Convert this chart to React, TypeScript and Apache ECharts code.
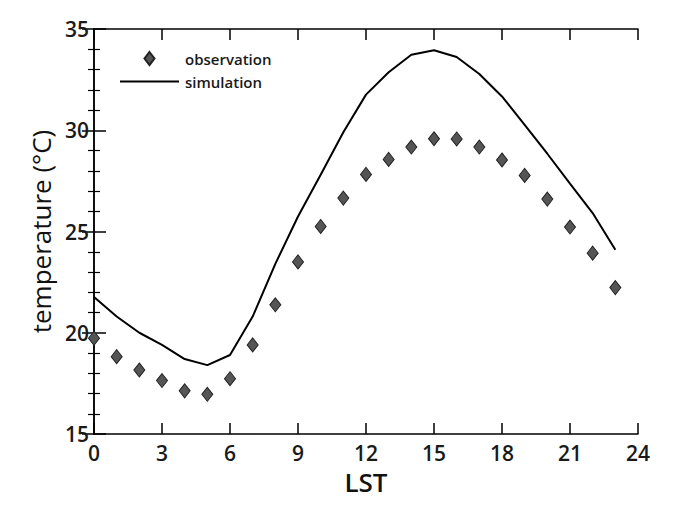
import React, { useEffect, useRef } from "react";
import * as echarts from "echarts";

const hours = [0, 1, 2, 3, 4, 5, 6, 7, 8, 9, 10, 11, 12, 13, 14, 15, 16, 17, 18, 19, 20, 21, 22, 23];
const observation = [19.73, 18.82, 18.16, 17.64, 17.13, 16.96, 17.73, 19.4, 21.38, 23.5, 25.25, 26.65, 27.82, 28.56, 29.17, 29.58, 29.57, 29.17, 28.53, 27.77, 26.6, 25.22, 23.93, 22.23];
const simulation = [21.76, 20.8, 20.0, 19.4, 18.7, 18.4, 18.9, 20.8, 23.4, 25.74, 27.8, 29.9, 31.76, 32.86, 33.73, 33.95, 33.62, 32.78, 31.67, 30.27, 28.84, 27.36, 25.91, 24.1];
const xTicks = { min: 0, max: 24, interval: 3 };
const yTicks = { min: 15, max: 35, interval: 5 };

const FONT = "'Open Sans', 'DejaVu Sans', sans-serif";

export default function App() {
  const ref = useRef<HTMLDivElement>(null);
  useEffect(() => {
    if (!ref.current) return;
    const chart = echarts.init(ref.current, undefined, { renderer: "svg" });
    const axisLine = { show: true, lineStyle: { color: "#000", width: 1.5 } };
    const xBase = {
      type: "value" as const,
      min: xTicks.min,
      max: xTicks.max,
      interval: xTicks.interval,
      splitLine: { show: false },
      axisLine,
      axisTick: { show: true, inside: true, length: 11, lineStyle: { color: "#000", width: 1.5 } },
    };
    const yBase = {
      type: "value" as const,
      min: yTicks.min,
      max: yTicks.max,
      interval: yTicks.interval,
      splitLine: { show: false },
      axisLine,
      axisTick: { show: true, inside: true, length: 12, lineStyle: { color: "#000", width: 1.5 } },
      minorTick: { show: true, splitNumber: 5, length: 6, lineStyle: { color: "#000", width: 1.2 } },
    };
    const labelStyle = { fontFamily: FONT, fontSize: 21, fontWeight: 600, color: "#1a1a1a", lineHeight: 21 };
    chart.setOption({
      animation: false,
      backgroundColor: "#fff",
      grid: { left: 94, right: 55, top: 29, bottom: 84 },
      legend: {
        orient: "vertical",
        left: 115,
        top: 46,
        itemWidth: 59,
        itemHeight: 13,
        itemGap: 8,
        symbolKeepAspect: true,
        textStyle: { fontFamily: FONT, fontSize: 15, fontWeight: 600, color: "#1a1a1a", padding: [0, 0, 0, 1] },
        data: [
          { name: "observation", icon: "path://M5,0 L10,6.5 L5,13 L0,6.5 Z" },
          { name: "simulation", icon: "path://M0,0 L59,0 L59,2 L0,2 Z" },
        ],
      },
      xAxis: [
        {
          ...xBase,
          position: "bottom",
          name: "LST",
          nameLocation: "middle",
          nameGap: 37,
          nameTextStyle: { fontFamily: FONT, fontSize: 26, fontWeight: 600, color: "#111", lineHeight: 22 },
          axisLabel: { ...labelStyle, margin: 8 },
        },
        {
          ...xBase,
          position: "top",
          axisLabel: { show: false },
        },
      ],
      yAxis: [
        {
          ...yBase,
          position: "left",
          name: "temperature (°C)",
          nameLocation: "middle",
          nameGap: 40,
          nameTextStyle: { fontFamily: FONT, fontSize: 26, fontWeight: 500, color: "#111" },
          axisLabel: { ...labelStyle, margin: 5 },
        },
        {
          ...yBase,
          position: "right",
          axisLabel: { show: false },
        },
      ],
      series: [
        {
          name: "observation",
          type: "scatter",
          symbol: "diamond",
          symbolSize: [11, 14],
          itemStyle: { color: "#555", borderColor: "#222", borderWidth: 1, opacity: 1 },
          data: hours.map((h, i) => [h, observation[i]]),
          z: 3,
        },
        {
          name: "simulation",
          type: "line",
          symbol: "none",
          lineStyle: { color: "#000", width: 2 },
          itemStyle: { color: "#000" },
          data: hours.map((h, i) => [h, simulation[i]]),
          z: 2,
        },
      ],
    });
    return () => chart.dispose();
  }, []);
  return (
    <div
      ref={ref}
      style={{ position: "fixed", left: 0, top: 0, width: 693, height: 518, background: "#fff" }}
    />
  );
}
